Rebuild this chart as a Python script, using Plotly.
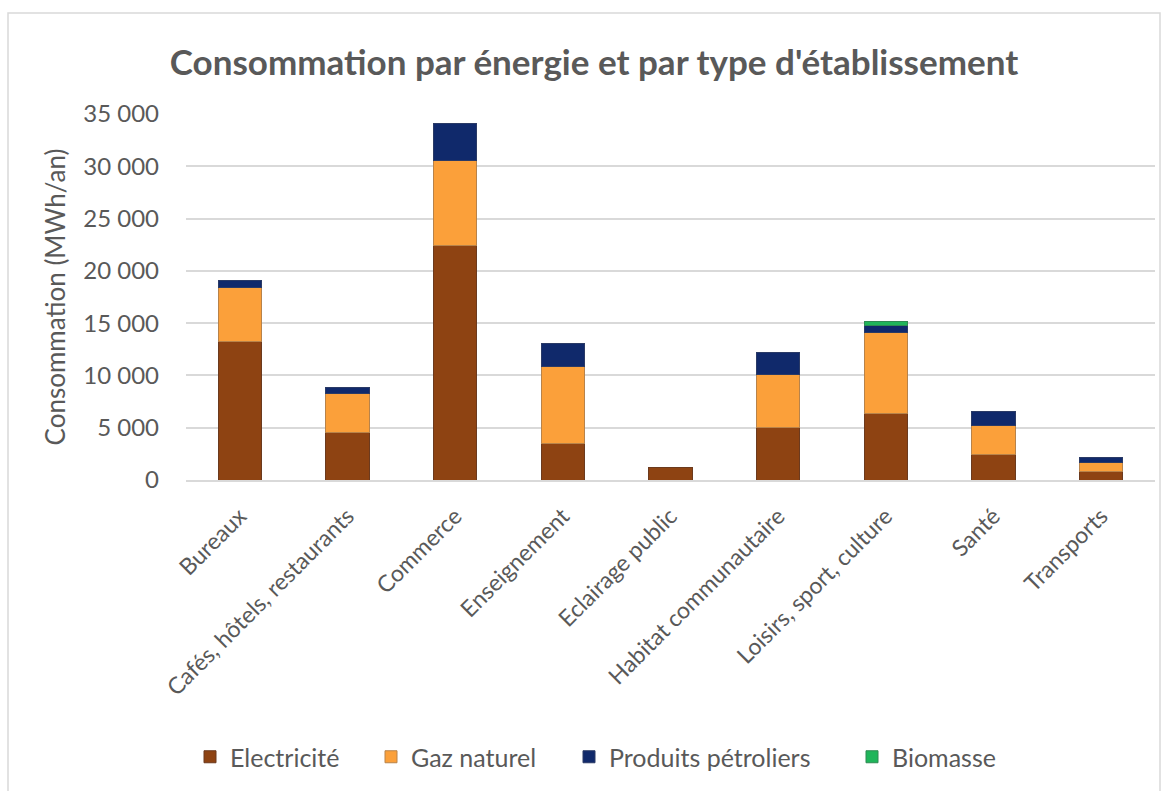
import plotly.graph_objects as go

categories = ["Bureaux", "Cafés, hôtels, restaurants", "Commerce", "Enseignement",
              "Eclairage public", "Habitat communautaire", "Loisirs, sport, culture",
              "Santé", "Transports"]
electricite = [13200, 4500, 22400, 3500, 1210, 5000, 6400, 2400, 860]
gaz_naturel = [5250, 3800, 8200, 7330, 0, 5130, 7750, 2830, 790]
produits_petroliers = [650, 570, 3450, 2200, 0, 2070, 650, 1300, 520]
biomasse = [0, 0, 0, 0, 0, 0, 400, 0, 0]

series = [
    ("Electricité", electricite, "#8E4312", "#6B3A1E"),
    ("Gaz naturel", gaz_naturel, "#FBA03A", "#B8834A"),
    ("Produits pétroliers", produits_petroliers, "#10296B", "#2A3A66"),
    ("Biomasse", biomasse, "#1FB55A", "#2E8A52"),
]

FONT = "Lato"
GREY = "#595959"

# plot area in pixels
L, R, T, B = 186, 17, 114, 311
W, H = 1172, 791
PW = W - L - R
PH = H - T - B

legend_sym_centers = [210, 391, 589, 872]

fig = go.Figure()
for i, (name, vals, col, edge) in enumerate(series):
    fig.add_trace(go.Bar(
        x=categories, y=[v if v else None for v in vals], name=name,
        marker=dict(color=col, line=dict(color=edge, width=1)),
        legend="legend" if i == 0 else f"legend{i + 1}",
    ))

layout_legends = {}
for i, cx in enumerate(legend_sym_centers):
    key = "legend" if i == 0 else f"legend{i + 1}"
    layout_legends[key] = dict(
        orientation="h", x=(cx - 20 - L) / PW, xanchor="left",
        y=1 - 757 / H, yref="container", yanchor="middle",
        font=dict(size=25, color=GREY, family=FONT),
        itemwidth=30, bgcolor="rgba(0,0,0,0)",
    )

fig.update_layout(
    barmode="stack",
    bargap=0.6,
    width=W, height=H,
    margin=dict(l=L, r=R, t=T, b=B),
    paper_bgcolor="white", plot_bgcolor="white",
    separators=", ",
    font=dict(family=FONT, color=GREY),
    title=dict(text="<b>Consommation par énergie et par type d'établissement</b>",
               x=594 / W, xref="container", xanchor="center",
               y=1 - 63 / H, yref="container", yanchor="middle",
               font=dict(size=35, color=GREY, family=FONT)),
    showlegend=True,
    **layout_legends,
)
fig.update_yaxes(range=[0, 35000], dtick=5000, tickformat=",d",
                 showgrid=True, gridcolor="#D9D9D9", gridwidth=1.5,
                 zeroline=False, showline=False,
                 tickfont=dict(size=24, color=GREY, family=FONT),
                 ticks="", ticklabelstandoff=26,
                 title=dict(text="Consommation (MWh/an)", standoff=10,
                            font=dict(size=26, color=GREY, family=FONT)))
fig.update_xaxes(tickangle=-45, showline=True, linecolor="#D9D9D9", linewidth=1.5,
                 tickfont=dict(size=23, color=GREY, family=FONT), ticks="",
                 ticklabelstandoff=12)

# chart area border
fig.add_shape(type="rect", xref="paper", yref="paper",
              x0=(8 - L) / PW, x1=(1160 - L) / PW,
              y0=(H - B - 800) / PH, y1=(H - B - 13) / PH,
              line=dict(color="#D9D9D9", width=1.5), fillcolor="rgba(0,0,0,0)", layer="below")

fig.write_html("out.html", config={"displayModeBar": False},
               post_script="document.body.style.margin='0';")
